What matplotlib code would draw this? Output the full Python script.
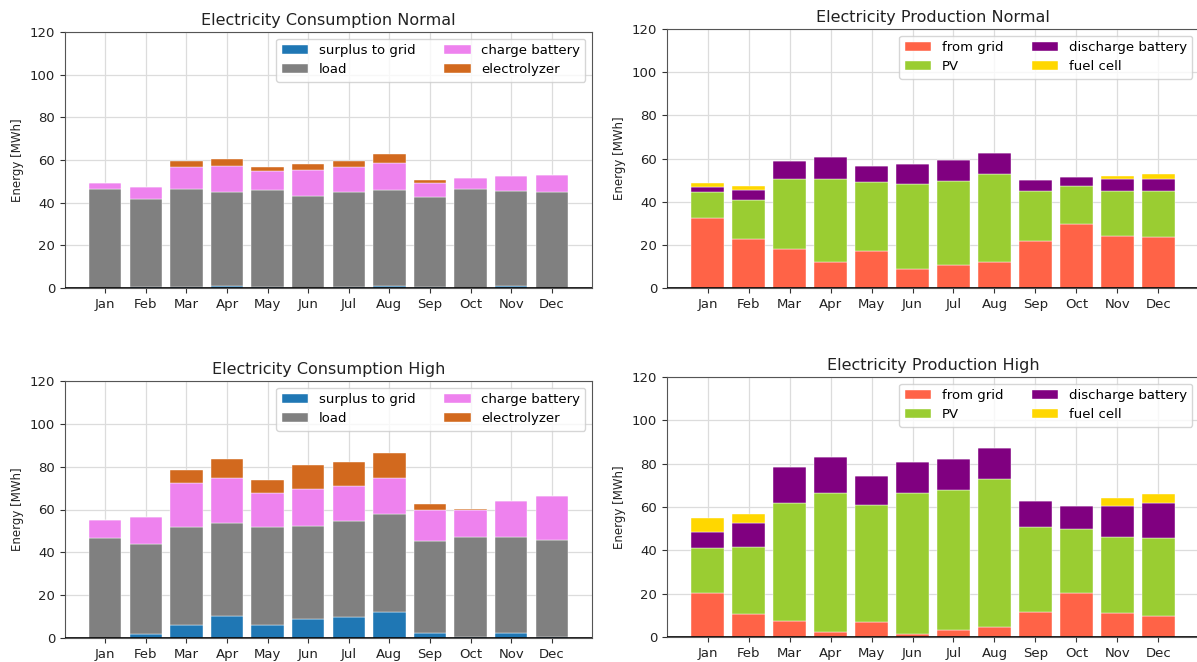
from __future__ import annotations

import matplotlib

matplotlib.use("Agg")
import matplotlib.pyplot as plt
import numpy as np

# ---------------------------------------------------------------------------
# Data (MWh per month)
# ---------------------------------------------------------------------------
MONTHS = ["Jan", "Feb", "Mar", "Apr", "May", "Jun",
          "Jul", "Aug", "Sep", "Oct", "Nov", "Dec"]

# consumption, normal scenario
cn_surplus = [0.0, 0.3, 0.3, 0.8, 0.3, 0.2, 0.5, 0.8, 0.3, 0.0, 0.8, 0.0]
cn_load = [46.4, 41.6, 46.1, 44.4, 45.7, 42.8, 44.7, 45.2, 42.4, 46.4, 44.7, 45.2]
cn_charge = [2.8, 5.3, 10.5, 12.1, 8.9, 12.2, 11.4, 12.4, 6.7, 5.2, 7.0, 7.9]
cn_electrolyzer = [0.0, 0.0, 2.5, 3.2, 2.0, 2.9, 3.1, 4.2, 1.2, 0.0, 0.0, 0.0]

# production, normal scenario
pn_grid = [32.6, 22.7, 18.1, 11.9, 17.1, 8.8, 10.7, 11.9, 21.6, 29.5, 23.9, 23.5]
pn_pv = [11.7, 18.1, 32.6, 38.6, 32.0, 39.4, 38.9, 40.9, 23.2, 17.6, 20.9, 21.3]
pn_discharge = [2.3, 4.5, 8.3, 10.0, 7.4, 9.4, 9.6, 9.6, 5.2, 4.2, 5.7, 5.9]
pn_fuelcell = [2.2, 1.8, 0.0, 0.0, 0.0, 0.0, 0.0, 0.0, 0.0, 0.0, 1.5, 2.1]

# consumption, high scenario
ch_surplus = [0.0, 2.0, 5.9, 10.1, 5.9, 8.7, 9.8, 12.2, 2.5, 0.3, 2.5, 0.3]
ch_load = [46.8, 41.8, 46.0, 43.8, 45.7, 43.7, 44.7, 45.5, 42.7, 46.8, 44.6, 45.4]
ch_charge = [8.2, 12.8, 20.6, 20.6, 15.9, 17.1, 16.6, 17.1, 14.5, 12.9, 17.1, 20.4]
ch_electrolyzer = [0.0, 0.0, 5.9, 8.9, 6.5, 11.4, 10.9, 11.8, 2.9, 0.3, 0.0, 0.0]

# production, high scenario
ph_grid = [20.3, 10.8, 7.5, 2.2, 6.8, 1.2, 3.4, 4.5, 11.6, 20.3, 11.1, 9.7]
ph_pv = [20.8, 30.8, 54.4, 64.4, 53.9, 65.4, 64.4, 68.2, 39.2, 29.6, 35.0, 35.8]
ph_discharge = [7.3, 10.9, 16.4, 16.6, 13.4, 14.1, 14.3, 14.4, 11.9, 10.5, 14.3, 16.4]
ph_fuelcell = [6.6, 4.4, 0.0, 0.0, 0.0, 0.0, 0.0, 0.0, 0.0, 0.0, 3.9, 4.0]

CONS_LABELS = ["surplus to grid", "load", "charge battery", "electrolyzer"]
CONS_COLORS = ["tab:blue", "grey", "violet", "chocolate"]
PROD_LABELS = ["from grid", "PV", "discharge battery", "fuel cell"]
PROD_COLORS = ["tomato", "yellowgreen", "purple", "gold"]

W, H = 1197, 662


def stacked_bars(ax, series, labels, colors, title):
    x = np.arange(len(MONTHS))
    bottom = np.zeros(len(MONTHS))
    for values, label, color in zip(series, labels, colors):
        values = np.asarray(values, dtype=float)
        ax.bar(x, values, 0.8, bottom=bottom, color=color, label=label,
               edgecolor="white", linewidth=0.3, zorder=3)
        bottom += values

    ax.axhline(0, color="black", linewidth=1.2, zorder=4)
    ax.set_xticks(x)
    ax.set_xticklabels(MONTHS)
    ax.set_ylim(0, 120)
    ax.set_yticks(np.arange(0, 121, 20))
    ax.tick_params(labelsize=9.5, colors="#333333", labelcolor="#222222")
    ax.grid(True, color="#dcdcdc", linewidth=0.9, zorder=0)
    ax.set_ylabel("Energy [MWh]", fontsize=8.5, color="#222222")
    ax.set_title(title, fontsize=11.5, color="#222222", pad=5)
    for spine in ax.spines.values():
        spine.set_color("#555555")
    ax.legend(loc="upper right", ncol=2, fontsize=9.5, borderaxespad=0.5,
              columnspacing=2.2, handlelength=2.0)


def add_axes(fig, left, right, top, bottom):
    return fig.add_axes([left / W, (H - bottom) / H,
                         (right - left) / W, (bottom - top) / H])


def main() -> None:
    fig = plt.figure(figsize=(W / 100, H / 100), dpi=100)

    ax_cn = add_axes(fig, 65, 592, 32, 288)
    ax_pn = add_axes(fig, 667, 1199, 29, 288)
    ax_ch = add_axes(fig, 65, 592, 381, 638)
    ax_ph = add_axes(fig, 667, 1199, 377, 637)

    stacked_bars(ax_cn, [cn_surplus, cn_load, cn_charge, cn_electrolyzer],
                 CONS_LABELS, CONS_COLORS, "Electricity Consumption Normal")
    stacked_bars(ax_pn, [pn_grid, pn_pv, pn_discharge, pn_fuelcell],
                 PROD_LABELS, PROD_COLORS, "Electricity Production Normal")
    stacked_bars(ax_ch, [ch_surplus, ch_load, ch_charge, ch_electrolyzer],
                 CONS_LABELS, CONS_COLORS, "Electricity Consumption High")
    stacked_bars(ax_ph, [ph_grid, ph_pv, ph_discharge, ph_fuelcell],
                 PROD_LABELS, PROD_COLORS, "Electricity Production High")

    fig.savefig("out.png", dpi=100)
    plt.close(fig)


if __name__ == "__main__":
    main()
